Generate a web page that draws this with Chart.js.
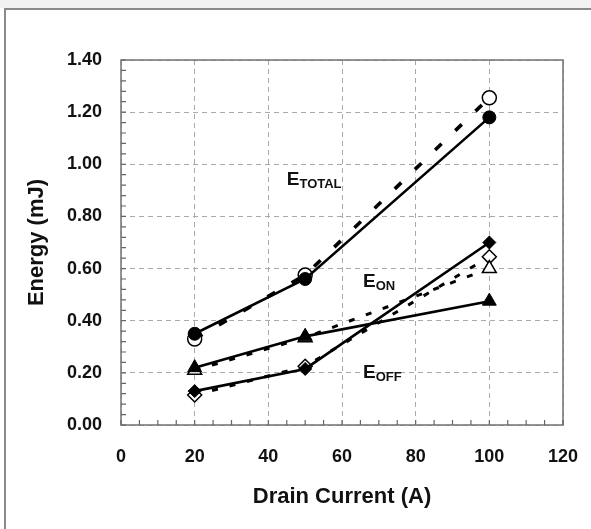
<!DOCTYPE html>
<html>
<head>
<meta charset="utf-8">
<script src="https://cdn.jsdelivr.net/npm/chart.js@4/dist/chart.umd.min.js"></script>
<style>
  html, body { margin: 0; padding: 0; background: #ffffff; }
  #wrap { position: absolute; left: 0; top: 0; width: 591px; height: 529px; }
</style>
</head>
<body>
<div id="wrap"><canvas id="c" width="591" height="529"></canvas></div>
<script>
// ---- data ----
const current = [20, 50, 100];
const eTotalSolid = [0.35, 0.56, 1.18];
const eTotalDashed = [0.33, 0.575, 1.255];
const eOnSolid = [0.22, 0.34, 0.475];
const eOnDashed = [0.21, 0.335, 0.60];
const eOffSolid = [0.13, 0.215, 0.70];
const eOffDashed = [0.115, 0.225, 0.645];
const xTicks = [0, 20, 40, 60, 80, 100, 120];
const yTicks = [0, 0.2, 0.4, 0.6, 0.8, 1.0, 1.2, 1.4];
const yTickLabels = ['0.00', '0.20', '0.40', '0.60', '0.80', '1.00', '1.20', '1.40'];
const seriesLabels = [
  { main: 'E', sub: 'TOTAL', x: 45, y: 0.92 },
  { main: 'E', sub: 'ON', x: 65.7, y: 0.53 },
  { main: 'E', sub: 'OFF', x: 65.7, y: 0.18 }
];

const pts = (ys) => current.map((x, i) => ({ x: x, y: ys[i] }));

function solid(ys, style, r) {
  return { data: pts(ys), borderColor: '#000', borderWidth: 2.6, pointStyle: style,
    pointRadius: r, pointBackgroundColor: '#000', pointBorderColor: '#000', pointBorderWidth: 1,
    showLine: true, tension: 0 };
}
function dashed(ys, style, r, dash, w) {
  return { data: pts(ys), borderColor: '#000', borderWidth: w, borderDash: dash, pointStyle: style,
    pointRadius: r, pointBackgroundColor: '#fff', pointBorderColor: '#000', pointBorderWidth: 1.5,
    showLine: true, tension: 0 };
}

const FONT = "'Liberation Sans', Arial, sans-serif";

const decor = {
  id: 'decor',
  beforeDraw(chart) {
    const ctx = chart.ctx;
    ctx.save();
    ctx.fillStyle = '#f2f2f2';
    ctx.fillRect(0, 0, chart.width, 8);
    ctx.strokeStyle = '#8a8a8a';
    ctx.lineWidth = 2;
    ctx.beginPath();
    ctx.moveTo(5, chart.height);
    ctx.lineTo(5, 9);
    ctx.lineTo(chart.width, 9);
    ctx.stroke();
    ctx.restore();
  },
  afterDatasetsDraw(chart) {
    const ctx = chart.ctx;
    const xs = chart.scales.x, ys = chart.scales.y;
    const a = chart.chartArea;
    ctx.save();
    // plot frame
    ctx.strokeStyle = '#7a7a7a';
    ctx.lineWidth = 1.6;
    ctx.strokeRect(a.left, a.top, a.right - a.left, a.bottom - a.top);
    // inward minor ticks
    ctx.lineWidth = 1.2;
    ctx.strokeStyle = '#666';
    ctx.beginPath();
    for (let v = 0; v <= 120.001; v += 5) {
      const px = xs.getPixelForValue(v);
      ctx.moveTo(px, a.bottom);
      ctx.lineTo(px, a.bottom - 5);
    }
    for (let k = 0; k <= 35; k++) {
      const py = ys.getPixelForValue(k * 0.04);
      ctx.moveTo(a.left, py);
      ctx.lineTo(a.left + 5, py);
    }
    ctx.stroke();
    // series labels
    ctx.fillStyle = '#111';
    ctx.textBaseline = 'alphabetic';
    ctx.textAlign = 'left';
    seriesLabels.forEach(l => {
      const px = xs.getPixelForValue(l.x);
      const py = ys.getPixelForValue(l.y);
      ctx.font = "bold 19px " + FONT;
      ctx.fillText(l.main, px, py);
      const w = ctx.measureText(l.main).width;
      ctx.font = "bold 13px " + FONT;
      ctx.fillText(l.sub, px + w, py + 3);
    });
    ctx.restore();
  }
};

new Chart(document.getElementById('c'), {
  type: 'scatter',
  data: {
    datasets: [
      solid(eTotalSolid, 'circle', 6.5),
      solid(eOnSolid, 'triangle', 8),
      solid(eOffSolid, 'rectRot', 6.5),
      dashed(eTotalDashed, 'circle', 7, [9, 19], 3.6),
      dashed(eOnDashed, 'triangle', 8, [6, 12], 3),
      dashed(eOffDashed, 'rectRot', 7, [6, 12], 3)
    ]
  },
  options: {
    responsive: false,
    animation: false,
    events: [],
    layout: { padding: { left: 0, right: 28, top: 60, bottom: 0 } },
    plugins: { legend: { display: false }, tooltip: { enabled: false } },
    scales: {
      x: {
        type: 'linear', min: 0, max: 120,
        afterBuildTicks(s) { s.ticks = xTicks.map(v => ({ value: v })); },
        afterFit(s) { s.height = 104; s.paddingRight = 0; s.paddingLeft = 0; },
        grid: { color: '#aaaaaa', lineWidth: 1, drawTicks: false, borderDash: [5, 4] },
        border: { display: false, dash: [5, 4] },
        ticks: { padding: 21, color: '#111', font: { family: FONT, size: 18, weight: 'bold' },
          callback: (v) => String(v) },
        title: { display: true, text: 'Drain Current (A)', color: '#111',
          font: { family: FONT, size: 22, weight: 'bold' }, padding: { top: 0, bottom: 19 } }
      },
      y: {
        type: 'linear', min: 0, max: 1.4,
        afterBuildTicks(s) { s.ticks = yTicks.map(v => ({ value: v })); },
        afterFit(s) { s.width = 121; s.paddingTop = 0; s.paddingBottom = 0; },
        grid: { color: '#aaaaaa', lineWidth: 1, drawTicks: false, borderDash: [5, 4] },
        border: { display: false, dash: [5, 4] },
        ticks: { padding: 19, color: '#111', font: { family: FONT, size: 18, weight: 'bold' },
          callback: (v) => { const i = yTicks.findIndex(t => Math.abs(t - v) < 1e-9); return i >= 0 ? yTickLabels[i] : ''; } },
        title: { display: true, text: 'Energy (mJ)', color: '#111',
          font: { family: FONT, size: 22, weight: 'bold' }, padding: { top: 24, bottom: 0 } }
      }
    }
  },
  plugins: [decor]
});
</script>
</body>
</html>
